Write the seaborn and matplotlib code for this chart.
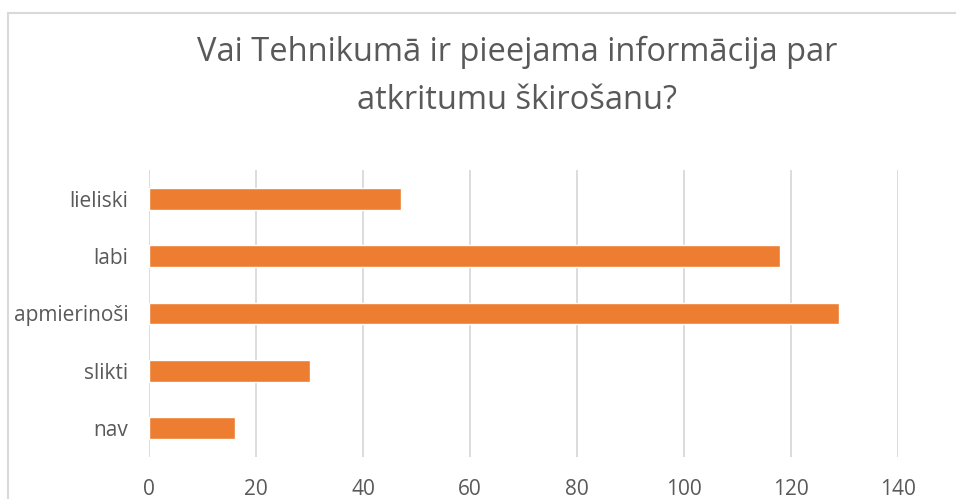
import matplotlib
matplotlib.use("Agg")
import matplotlib.pyplot as plt
import seaborn as sns
import pandas as pd
from matplotlib.patches import Rectangle

# data
categories = ["lieliski", "labi", "apmierinoši", "slikti", "nav"]
counts = [47, 118, 129, 30, 16]
x_ticks = [0, 20, 40, 60, 80, 100, 120, 140]

df = pd.DataFrame({"atbilde": categories, "skaits": counts})

sns.set_theme(style="white")
plt.rcParams["font.family"] = ["Open Sans", "DejaVu Sans"]

text_color = "#595959"
grid_color = "#D9D9D9"
bar_color = "#ED7D31"

fig = plt.figure(figsize=(9.56, 4.99), dpi=100)
ax = fig.add_axes([0.1562, 0.0842, 0.9393 - 0.1562, 0.6593 - 0.0842])

sns.barplot(data=df, y="atbilde", x="skaits", color=bar_color,
            saturation=1, width=0.38, ax=ax, orient="h")

ax.set_xlim(0, 140)
ax.set_ylim(4.5, -0.5)
ax.set_xticks(x_ticks)
ax.set_xlabel("")
ax.set_ylabel("")
for s in ax.spines.values():
    s.set_visible(False)
ax.xaxis.grid(True, color=grid_color, linewidth=1.3)
ax.yaxis.grid(False)
ax.set_axisbelow(True)
ax.tick_params(axis="x", colors=text_color, labelsize=15, length=0, pad=16)
ax.tick_params(axis="y", colors=text_color, labelsize=15, length=0, pad=15)

fig.text(0.541, 0.8778, "Vai Tehnikumā ir pieejama informācija par",
         ha="center", va="baseline", fontsize=23.5, color=text_color)
fig.text(0.541, 0.7816, "atkritumu škirošanu?",
         ha="center", va="baseline", fontsize=23.5, color=text_color)

# chart border
fig.patches.append(Rectangle((8 / 956, -0.1), 1.2, 1 - 13 / 499 + 0.1,
                             transform=fig.transFigure, fill=False,
                             edgecolor=grid_color, linewidth=1.5))

fig.savefig("out.png", dpi=100)
